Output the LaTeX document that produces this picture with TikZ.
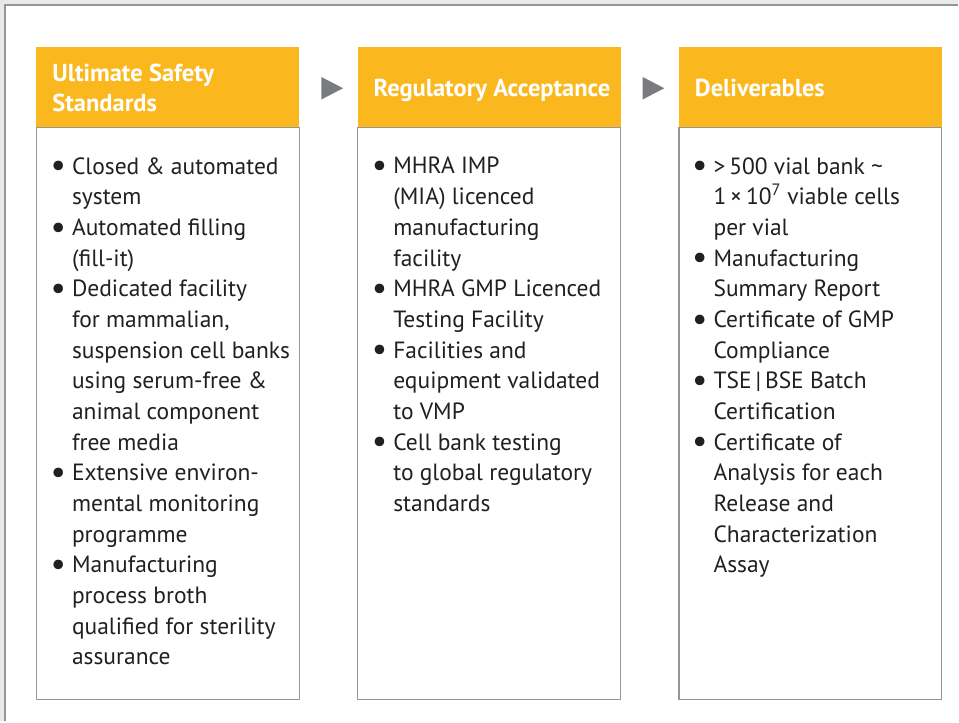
\documentclass[tikz,border=0pt]{standalone}
\usepackage{fontspec}
\setmainfont{PT Sans}
\usepackage{tikz}
\usetikzlibrary{positioning,shapes.geometric}
\definecolor{safron}{RGB}{251,184,30}
\definecolor{pointer}{RGB}{122,123,126}
\definecolor{rim}{RGB}{150,150,150}
\definecolor{outside}{RGB}{232,233,235}
\definecolor{ink}{RGB}{35,31,32}
\newcommand{\bul}{\llap{\raisebox{-0.12em}{\scalebox{1.45}{\textbullet}}\hspace{6pt}}}

\begin{document}
\begin{tikzpicture}[x=1pt, y=-1pt, node distance={321.5pt},
  head/.style = {fill=safron, minimum width=263pt, minimum height=80pt, inner sep=0pt},
  headtxt/.style = {text=white, inner sep=0pt, align=left, font=\fontsize{24.5}{30}\selectfont\bfseries},
  body/.style = {draw=rim, line width=1.2pt, minimum width=263pt, minimum height=572pt, inner sep=0pt},
  items/.style = {anchor=north west, inner sep=0pt, align=left, text=ink, font=\fontsize{23.5}{30.7}\selectfont},
  tri/.style = {fill=pointer, isosceles triangle, isosceles triangle apex angle=55, minimum height=21.6pt, inner sep=0pt}]
                \fill[outside] (0,0) rectangle (959,722);
                \fill[white] (5,5) rectangle (959,722);
                \draw[rim, line width=1.5pt] (5,722) -- (5,5) -- (959,5);
                \useasboundingbox (0,0) rectangle (959,722);
                \node[head] (h1) at (168,87) {};
                \node[head] (h2) [right of=h1] {};
                \node[head] (h3) [right of=h2] {};
                \node[headtxt, anchor=west, xshift=16pt, yshift=-1pt] (l1) at (h1.west) {Ultimate Safety\\Standards};
                \node[headtxt, anchor=base west, xshift=16pt, yshift=-9.5pt] (l2) at (h2.west) {Regulatory Acceptance};
                \node[headtxt, anchor=base west, xshift=16pt, yshift=-9.5pt] (l3) at (h3.west) {Deliverables};
                \node[body] (b1) [below=0pt of h1] {};
                \node[body] (b2) [below=0pt of h2] {};
                \node[body] (b3) [below=0pt of h3] {};
                \node[tri] (p1) at (328.5,88.3) {};
                \node[tri] (p2) at (650,88.3) {};
                \node[items, xshift=36pt, yshift=-30pt] (t1) at (b1.north west) {\bul Closed \& automated\\system\\\bul Automated filling\\(fill-it)\\\bul Dedicated facility\\for mammalian,\\suspension cell banks\\using serum-free \&\\animal component\\free media\\\bul Extensive environ-\\mental monitoring\\programme\\\bul Manufacturing\\process broth\\qualified for sterility\\assurance};
                \node[items, xshift=36pt, yshift=-30pt] (t2) at (b2.north west) {\bul MHRA IMP\\(MIA) licenced\\manufacturing\\facility\\\bul MHRA GMP Licenced\\Testing Facility\\\bul Facilities and\\equipment validated\\to VMP\\\bul Cell bank testing\\to global regulatory\\standards};
                \node[items, xshift=35pt, yshift=-30pt] (t3) at (b3.north west) {\bul {>}\,500 vial bank \textasciitilde\\1\,×\,10\textsuperscript{7} viable cells\\per vial\\\bul Manufacturing\\Summary Report\\\bul Certificate of GMP\\Compliance\\\bul TSE\,|\,BSE Batch\\Certification\\\bul Certificate of\\Analysis for each\\Release and\\Characterization\\Assay};
            \end{tikzpicture}
\end{document}
